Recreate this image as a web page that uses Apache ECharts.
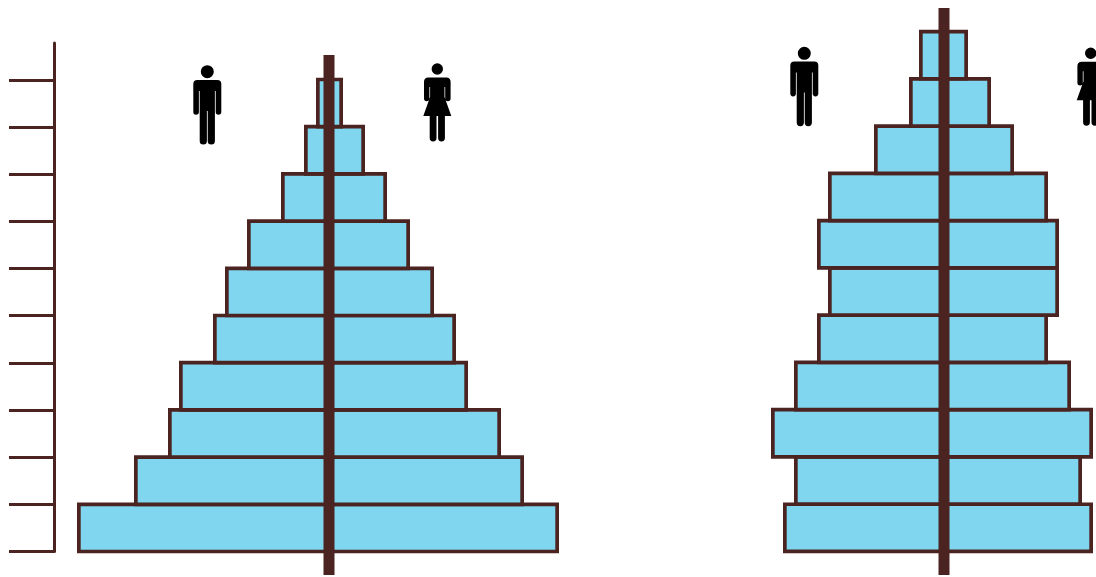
<!DOCTYPE html>
<html>
<head>
<meta charset="utf-8">
<style>html,body{margin:0;padding:0;background:#fff}#c{width:1096px;height:577px}</style>
<script src="https://cdn.jsdelivr.net/npm/echarts@6/dist/echarts.min.js"></script>
</head>
<body>
<div id="c"></div>
<script>
// Age bands, youngest first
const bandsA = ['1','2','3','4','5','6','7','8','9','10'];
const bandsB = ['1','2','3','4','5','6','7','8','9','10','11'];
const maleA   = [252,195,161,150,116,104,82,48,25,13];
const femaleA = [230,195,172,139,127,105,81,58,36,14];
const maleB   = [161,150,173,150,127,116,127,116,70,35,25];
const femaleB = [149,138,149,127,104,115,115,104,70,47,24];
const axisTicks = [0,1,2,3,4,5,6,7,8,9,10];

const INK = '#4b2320', FILL = '#7fd6ee', BLACK = '#000';
const MAN = 'M6.5 6.7A6.5 6.5 0 1 1 -6.5 6.7A6.5 6.5 0 1 1 6.5 6.7Z' +
 'M-10 15L10 15Q14 15 14 19L14 47A2.8 2.8 0 0 1 8.4 47L8.4 26L7.6 26L7.6 76A3.6 3.6 0 0 1 0.4 76L0.4 46L-0.4 46L-0.4 76A3.6 3.6 0 0 1 -7.6 76L-7.6 26L-8.4 26L-8.4 47A2.8 2.8 0 0 1 -14 47L-14 19Q-14 15 -10 15Z';
const WOMAN = 'M5.7 7A5.7 5.7 0 1 1 -5.7 7A5.7 5.7 0 1 1 5.7 7Z' +
 'M-9 15.5L9 15.5Q13.3 15.5 13.3 20L13.3 36.5A2.7 2.7 0 0 1 7.9 36.5L7.9 25L7.2 25L7.2 35L14 54L7.6 54L7.6 76A3.4 3.4 0 0 1 0.8 76L0.8 54L-0.8 54L-0.8 76A3.4 3.4 0 0 1 -7.6 76L-7.6 54L-14 54L-7.2 35L-7.2 25L-7.9 25L-7.9 36.5A2.7 2.7 0 0 1 -13.3 36.5L-13.3 20Q-13.3 15.5 -9 15.5Z';

echarts.graphic.registerShape('manIcon', echarts.graphic.extendPath(MAN, {}));
echarts.graphic.registerShape('womanIcon', echarts.graphic.extendPath(WOMAN, {}));

function icon(type, x, y) {
  return { type:type, x:x, y:y, silent:true, z:20, style:{fill:BLACK} };
}
function spine(x, y1, y2) {
  return { type:'line', silent:true, z:10, shape:{x1:x,y1:y1,x2:x,y2:y2}, style:{stroke:INK,lineWidth:11} };
}
function bar(name, data, idx, sign) {
  return { name:name, type:'bar', stack:'p'+idx, data:data.map(v => v*sign), xAxisIndex:idx, yAxisIndex:idx, barWidth:50.9, silent:true, clip:false,
    itemStyle:{color:FILL, borderColor:INK, borderWidth:3.7} };
}
const hiddenCat = (d, g) => ({ type:'category', data:d, gridIndex:g, show:false });
const hiddenVal = (min, max, g) => ({ type:'value', min:min, max:max, gridIndex:g, show:false });

const chart = echarts.init(document.getElementById('c'), null, {renderer:'canvas'});
chart.setOption({
  animation:false,
  backgroundColor:'#fff',
  grid:[
    {left:60, top:79.5, width:538, height:472},
    {left:754, top:31.5, width:342, height:520},
    {left:54, top:43, width:1, height:508.5}
  ],
  xAxis:[ hiddenVal(-269,269,0), hiddenVal(-190,152,1), hiddenVal(0,1,2) ],
  yAxis:[
    hiddenCat(bandsA,0),
    hiddenCat(bandsB,1),
    { type:'value', gridIndex:2, min:0, max:10.78, position:'left', splitLine:{show:false},
      axisLabel:{show:false},
      axisLine:{show:true, lineStyle:{color:INK,width:3}},
      axisTick:{show:true, length:45, customValues:axisTicks, lineStyle:{color:INK,width:3}} }
  ],
  series:[
    bar('Male',maleA,0,-1), bar('Female',femaleA,0,1),
    bar('Male',maleB,1,-1), bar('Female',femaleB,1,1),
    { type:'scatter', data:[], xAxisIndex:2, yAxisIndex:2 }
  ],
  graphic:[
    spine(329,55,575), spine(944,8,575),
    icon('manIcon',207.3,65), icon('womanIcon',437.3,62),
    icon('manIcon',804.3,46.6), icon('womanIcon',1090.7,46.3)
  ]
});
</script>
</body>
</html>
